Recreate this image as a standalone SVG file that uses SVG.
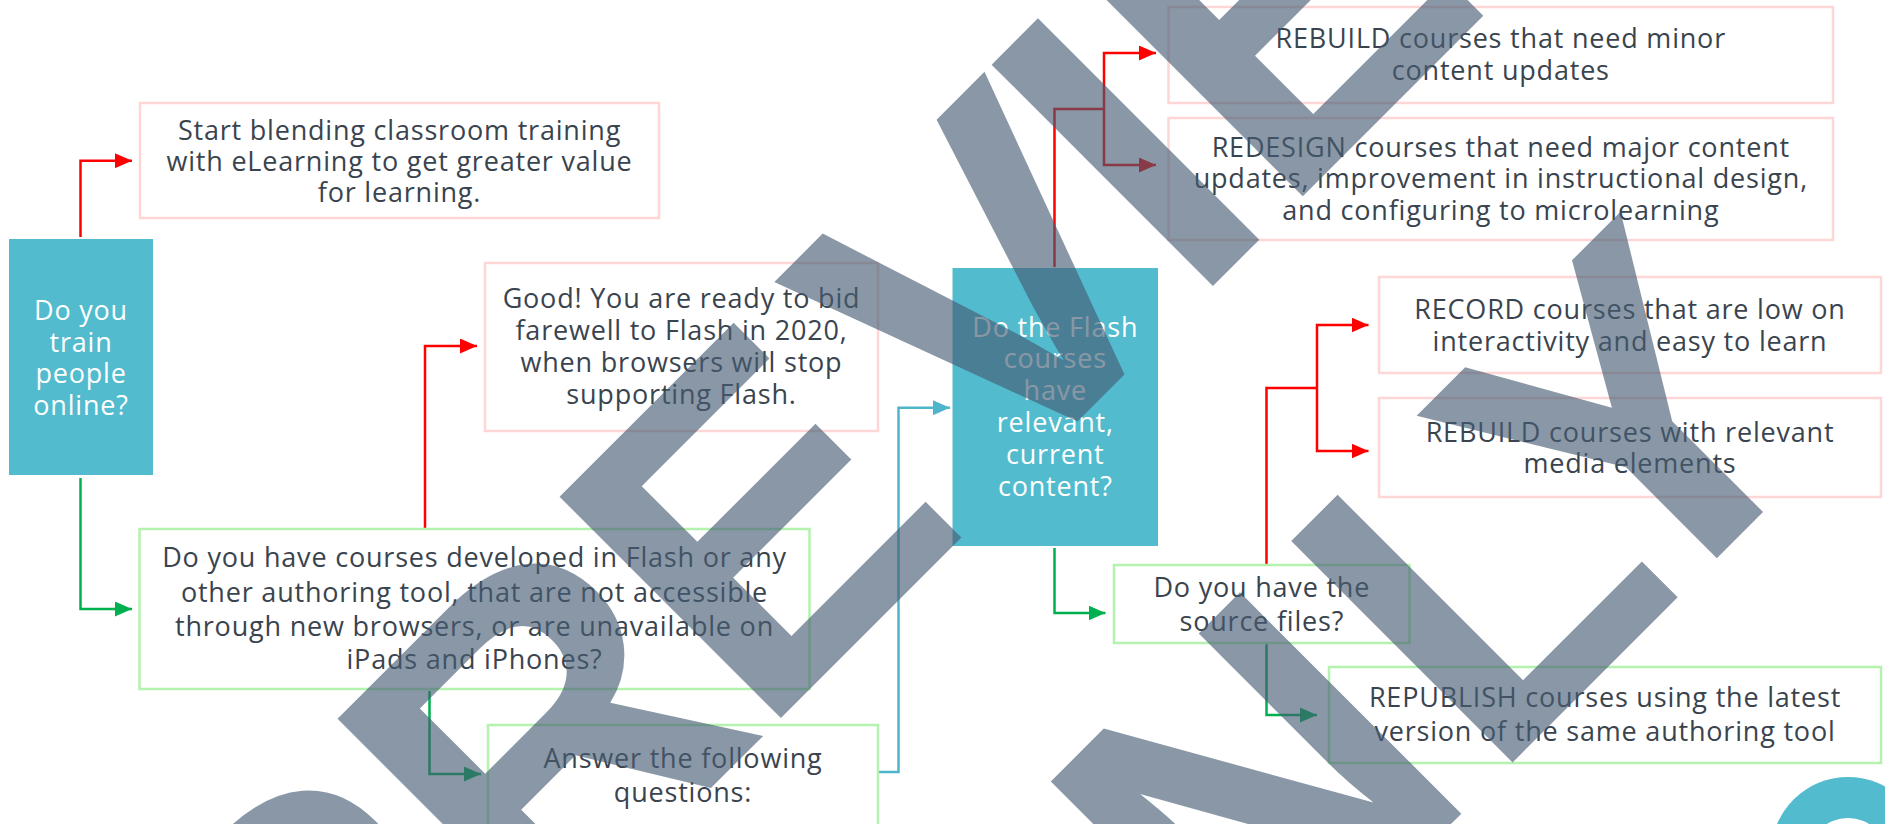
<svg xmlns="http://www.w3.org/2000/svg" width="1885" height="824" viewBox="0 0 1885 824">
<style>
.bp{fill:#fff;stroke:#FFD6D6;stroke-width:2.5}
.bg{fill:#fff;stroke:#B4F2AE;stroke-width:2.5}
.bt{fill:#52BBCE}
.t{font-family:"Open Sans","Liberation Sans",sans-serif;font-size:27px;letter-spacing:0.8px;fill:#3A444E;text-anchor:middle}
.w{fill:#fff}
.c{fill:none;stroke-width:2.5}
.r{stroke:#FF0000}
.g{stroke:#00B050}
.b{stroke:#4DB6CB}
</style>
<defs>
<marker id="ar" markerUnits="userSpaceOnUse" markerWidth="17" markerHeight="15" refX="17" refY="7.5" orient="auto"><path d="M0,0 L17,7.5 L0,15 z" fill="#FF0000"/></marker>
<marker id="ag" markerUnits="userSpaceOnUse" markerWidth="17" markerHeight="15" refX="17" refY="7.5" orient="auto"><path d="M0,0 L17,7.5 L0,15 z" fill="#00B050"/></marker>
<marker id="ab" markerUnits="userSpaceOnUse" markerWidth="17" markerHeight="15" refX="17" refY="7.5" orient="auto"><path d="M0,0 L17,7.5 L0,15 z" fill="#4DB6CB"/></marker>
</defs>
<rect width="1885" height="824" fill="#fff"/>

<g id="connectors">
<path class="c r" d="M80.5,237 V160.7 H132" marker-end="url(#ar)"/>
<path class="c g" d="M80.5,478 V609 H132" marker-end="url(#ag)"/>
<path class="c r" d="M425,528 V346 H477" marker-end="url(#ar)"/>
<path class="c g" d="M429.5,691 V774 H481" marker-end="url(#ag)"/>
<path class="c b" d="M878,772 H898.5 V407.7 H950" marker-end="url(#ab)"/>
<path class="c r" d="M1054.5,267 V109 H1104"/>
<path class="c r" d="M1104,109 V53 H1156" marker-end="url(#ar)"/>
<path class="c r" d="M1104,109 V165 H1156" marker-end="url(#ar)"/>
<path class="c g" d="M1054.5,548 V613 H1105.5" marker-end="url(#ag)"/>
<path class="c r" d="M1266.5,564 V388 H1317"/>
<path class="c r" d="M1317,388 V325 H1368.5" marker-end="url(#ar)"/>
<path class="c r" d="M1317,388 V451 H1368.5" marker-end="url(#ar)"/>
<path class="c g" d="M1266.5,644 V715 H1317" marker-end="url(#ag)"/>
</g>

<g id="n-train">
<rect class="bt" x="9" y="239" width="144" height="236"/>
<text class="t w"><tspan x="81" y="320">Do you</tspan><tspan x="81" y="351.5">train</tspan><tspan x="81" y="383">people</tspan><tspan x="81" y="414.5">online?</tspan></text>
</g>

<g id="n-blend">
<rect class="bp" x="140" y="103" width="519" height="115"/>
<text class="t"><tspan x="399.5" y="139.5">Start blending classroom training</tspan><tspan x="399.5" y="170.8">with eLearning to get greater value</tspan><tspan x="399.5" y="202">for learning.</tspan></text>
</g>

<g id="n-flashq">
<rect class="bg" x="139.5" y="529" width="670" height="160"/>
<text class="t"><tspan x="474.5" y="566.7">Do you have courses developed in Flash or any</tspan><tspan x="474.5" y="601.5">other authoring tool, that are not accessible</tspan><tspan x="474.5" y="635.7">through new browsers, or are unavailable on</tspan><tspan x="474.5" y="669.3">iPads and iPhones?</tspan></text>
</g>

<g id="n-good">
<rect class="bp" x="485" y="263" width="393" height="168"/>
<text class="t"><tspan x="681.5" y="308.3">Good! You are ready to bid</tspan><tspan x="681.5" y="340">farewell to Flash in 2020,</tspan><tspan x="681.5" y="372.3">when browsers will stop</tspan><tspan x="681.5" y="404.3">supporting Flash.</tspan></text>
</g>

<g id="n-answer">
<rect class="bg" x="488" y="725" width="390" height="130"/>
<text class="t"><tspan x="683" y="768.3">Answer the following</tspan><tspan x="683" y="801.7">questions:</tspan></text>
</g>

<g id="n-relevant">
<rect class="bt" x="952.5" y="268" width="205.5" height="278"/>
<text class="t w"><tspan x="1055.3" y="336.7">Do the Flash</tspan><tspan x="1055.3" y="368.3">courses</tspan><tspan x="1055.3" y="400">have</tspan><tspan x="1055.3" y="432.3">relevant,</tspan><tspan x="1055.3" y="464">current</tspan><tspan x="1055.3" y="496">content?</tspan></text>
</g>

<g id="n-rebuild-minor">
<rect class="bp" x="1168.5" y="7" width="664.5" height="96"/>
<text class="t"><tspan x="1500.8" y="48.3">REBUILD courses that need minor</tspan><tspan x="1500.8" y="80">content updates</tspan></text>
</g>

<g id="n-redesign">
<rect class="bp" x="1168.5" y="118" width="664.5" height="122"/>
<text class="t"><tspan x="1500.8" y="156.7">REDESIGN courses that need major content</tspan><tspan x="1500.8" y="188.3">updates, improvement in instructional design,</tspan><tspan x="1500.8" y="220">and configuring to microlearning</tspan></text>
</g>

<g id="n-source">
<rect class="bg" x="1114" y="565" width="295.5" height="78"/>
<text class="t"><tspan x="1261.8" y="597.3">Do you have the</tspan><tspan x="1261.8" y="630.7">source files?</tspan></text>
</g>

<g id="n-record">
<rect class="bp" x="1379" y="277" width="502" height="96"/>
<text class="t"><tspan x="1630" y="319.3">RECORD courses that are low on</tspan><tspan x="1630" y="350.7">interactivity and easy to learn</tspan></text>
</g>

<g id="n-rebuild-media">
<rect class="bp" x="1379" y="398" width="502" height="99"/>
<text class="t"><tspan x="1630" y="441.7">REBUILD courses with relevant</tspan><tspan x="1630" y="472.7">media elements</tspan></text>
</g>

<g id="n-republish">
<rect class="bg" x="1329" y="667" width="552" height="96"/>
<text class="t"><tspan x="1605" y="707.3">REPUBLISH courses using the latest</tspan><tspan x="1605" y="740.7">version of the same authoring tool</tspan></text>
</g>

<g id="n-circle">
<circle cx="1848" cy="854" r="77" fill="#52BBCE"/>
<circle cx="1848" cy="858" r="40" fill="#fff"/>
</g>

<g id="watermark" opacity="0.63" fill="#465C73" font-family="Liberation Sans, Arial, sans-serif" font-weight="bold" font-size="455">
<text transform="translate(749.5,749.5) rotate(-45)" x="-603 -300 14 345 625 752 1055" y="0">PREVIEW</text>
<text transform="translate(1137.5,1137.5) rotate(-45)" x="-200 160 500 700" y="0">ONLY</text>
</g>
</svg>
